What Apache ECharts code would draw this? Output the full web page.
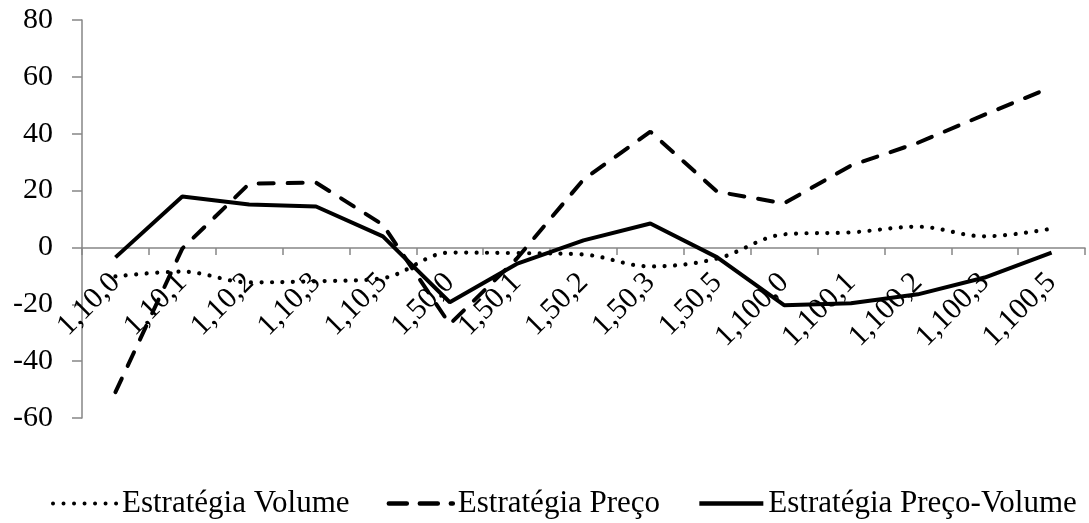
<!DOCTYPE html>
<html>
<head>
<meta charset="utf-8">
<script src="https://cdn.jsdelivr.net/npm/echarts@6/dist/echarts.min.js"></script>
<style>
html,body{margin:0;padding:0;background:#fff;}
#c{width:1089px;height:523px;}
</style>
</head>
<body>
<div id="c"></div>
<script>
var categories = ['1,10,0','1,10,1','1,10,2','1,10,3','1,10,5','1,50,0','1,50,1','1,50,2','1,50,3','1,50,5','1,100,0','1,100,1','1,100,2','1,100,3','1,100,5'];
var volume = [-10.2, -8.5, -12.3, -11.9, -10.8, -1.8, -2.0, -2.5, -6.7, -3.9, 4.6, 5.3, 7.3, 3.9, 6.6];
var preco = [-50.9, -0.4, 22.4, 22.8, 8.0, -27.0, -4.0, 23.9, 40.7, 19.6, 15.5, 28.8, 36.8, 46.7, 56.4];
var precoVolume = [-3.5, 17.9, 15.1, 14.4, 3.9, -19.3, -5.8, 2.5, 8.4, -3.5, -20.3, -19.6, -16.5, -10.6, -1.8];
var seriesNames = ['Estratégia Volume', 'Estratégia Preço', 'Estratégia Preço-Volume'];
var yTicks = {min: -60, max: 80, interval: 20};

var font = '"Liberation Serif", "Times New Roman", serif';
var dotStyle = {color: '#000', width: 4.2, type: [0.01, 10.5], cap: 'round'};
var dashStyle = {color: '#000', width: 4, type: [15, 14], cap: 'round'};
var solidStyle = {color: '#000', width: 4, type: 'solid', cap: 'butt'};

var chart = echarts.init(document.getElementById('c'), null, {renderer: 'canvas'});
chart.setOption({
  animation: false,
  backgroundColor: '#ffffff',
  textStyle: {fontFamily: font, color: '#000'},
  grid: {left: 82, right: 4, top: 20, bottom: 105, containLabel: false},
  legend: {
    left: 46, top: 483,
    itemWidth: 64, itemHeight: 14, itemGap: 37,
    itemStyle: {opacity: 0},
    textStyle: {fontFamily: font, fontSize: 31, color: '#000'},
    data: [
      {name: seriesNames[0], itemStyle: {opacity: 0}, lineStyle: {color: '#000', width: 4, type: [0.01, 10.5], cap: 'round'}},
      {name: seriesNames[1], itemStyle: {opacity: 0}, lineStyle: {color: '#000', width: 4.5, type: [18, 13], cap: 'round'}},
      {name: seriesNames[2], itemStyle: {opacity: 0}, lineStyle: {color: '#000', width: 4.5, type: 'solid'}}
    ]
  },
  xAxis: {
    type: 'category',
    data: categories,
    boundaryGap: true,
    offset: -170,
    axisLine: {onZero: false, lineStyle: {color: '#868686', width: 1.5}},
    axisTick: {show: true, length: 7, inside: false, lineStyle: {color: '#868686', width: 1.5}},
    axisLabel: {rotate: 45, margin: 30, interval: 0, fontFamily: font, fontSize: 30, color: '#000'},
    splitLine: {show: false}
  },
  yAxis: {
    type: 'value',
    min: yTicks.min, max: yTicks.max, interval: yTicks.interval,
    axisLine: {show: true, lineStyle: {color: '#868686', width: 1.5}},
    axisTick: {show: true, length: 10, lineStyle: {color: '#868686', width: 1.5}},
    axisLabel: {margin: 29, fontFamily: font, fontSize: 30, color: '#000'},
    splitLine: {show: false}
  },
  series: [
    {name: seriesNames[0], type: 'line', data: volume, symbol: 'none', smooth: 0.35, lineStyle: dotStyle, itemStyle: {color: '#000'}},
    {name: seriesNames[1], type: 'line', data: preco, symbol: 'none', lineStyle: dashStyle, itemStyle: {color: '#000'}},
    {name: seriesNames[2], type: 'line', data: precoVolume, symbol: 'none', lineStyle: solidStyle, itemStyle: {color: '#000'}}
  ]
});
</script>
</body>
</html>
